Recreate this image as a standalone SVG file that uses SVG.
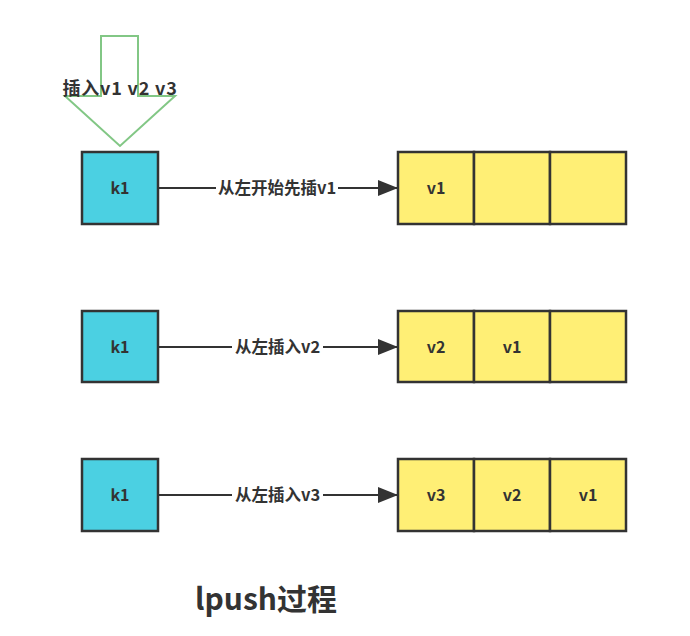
<svg xmlns="http://www.w3.org/2000/svg" width="690" height="636" viewBox="0 0 690 636">
<defs>
<marker id="ah" viewBox="0 0 20 20" refX="20" refY="10" markerWidth="20" markerHeight="20" markerUnits="userSpaceOnUse" orient="auto">
<path d="M0,2 L20,10 L0,18 Z" fill="#333"/>
</marker>
<style>
.k{fill:#4BD0E2;stroke:#333;stroke-width:2.5}
.c{fill:#FFEF75;stroke:#333;stroke-width:2.5}
.t{font-family:"Noto Sans CJK SC","Liberation Sans",sans-serif;font-weight:bold;fill:#333;text-anchor:middle}
.n{font-size:16px}
.l{font-size:16.5px}
.e{stroke:#333;stroke-width:2;fill:none}
.lb{fill:#fff}
</style>
</defs>
<rect width="690" height="636" fill="#fff"/>
<g id="insert-arrow">
<path d="M101,36 L138,36 L138,96 L175,96 L120,146 L65,96 L101,96 Z" fill="none" stroke="#82C785" stroke-width="2"/>
<text class="t" x="120" y="95" font-size="18" letter-spacing="0.8">插入v1 v2 v3</text>
</g>
<g id="connectors">
<line class="e" x1="158" y1="188" x2="398" y2="188" marker-end="url(#ah)"/>
<rect class="lb" x="216" y="177" width="122" height="22"/>
<text class="t l" x="277" y="194">从左开始先插v1</text>
<line class="e" x1="158" y1="347" x2="398" y2="347" marker-end="url(#ah)"/>
<rect class="lb" x="232" y="336" width="91" height="22"/>
<text class="t l" x="277.5" y="353">从左插入v2</text>
<line class="e" x1="158" y1="495" x2="398" y2="495" marker-end="url(#ah)"/>
<rect class="lb" x="232" y="484" width="91" height="22"/>
<text class="t l" x="277.5" y="501">从左插入v3</text>
</g>
<g id="k1-row1"><rect class="k" x="82" y="152" width="76" height="72"/><text class="t n" x="120" y="194">k1</text></g>
<g id="k1-row2"><rect class="k" x="82" y="311" width="76" height="71"/><text class="t n" x="120" y="353">k1</text></g>
<g id="k1-row3"><rect class="k" x="82" y="459" width="76" height="72"/><text class="t n" x="120" y="501">k1</text></g>
<g id="list-row1">
<rect class="c" x="398" y="152" width="76" height="72"/><text class="t n" x="436" y="194">v1</text>
<rect class="c" x="474" y="152" width="76" height="72"/>
<rect class="c" x="550" y="152" width="76" height="72"/>
</g>
<g id="list-row2">
<rect class="c" x="398" y="311" width="76" height="71"/><text class="t n" x="436" y="353">v2</text>
<rect class="c" x="474" y="311" width="76" height="71"/><text class="t n" x="512" y="353">v1</text>
<rect class="c" x="550" y="311" width="76" height="71"/>
</g>
<g id="list-row3">
<rect class="c" x="398" y="459" width="76" height="72"/><text class="t n" x="436" y="501">v3</text>
<rect class="c" x="474" y="459" width="76" height="72"/><text class="t n" x="512" y="501">v2</text>
<rect class="c" x="550" y="459" width="76" height="72"/><text class="t n" x="588" y="501">v1</text>
</g>
<g id="title"><text class="t" x="266" y="610" font-size="30">lpush过程</text></g>
</svg>
